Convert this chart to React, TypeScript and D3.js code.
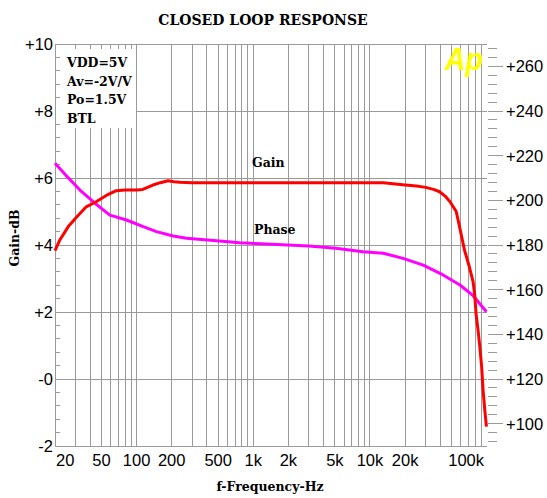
import React from 'react';
import * as d3 from 'd3';

const gainFreq = [20, 22, 26, 30, 37, 45, 55, 67, 80, 100, 113, 138, 160, 186, 210, 235, 300, 1000, 5000, 13000, 19000, 25000, 30000, 35000, 39500, 44000, 48500, 54800, 58500, 64500, 71000, 76500, 79000, 81000, 84300, 87300, 90500, 93100, 96300, 99500];
const gainDb = [3.83, 4.15, 4.55, 4.8, 5.14, 5.29, 5.48, 5.62, 5.64, 5.64, 5.66, 5.79, 5.86, 5.92, 5.89, 5.87, 5.86, 5.86, 5.86, 5.86, 5.8, 5.76, 5.72, 5.66, 5.59, 5.46, 5.29, 5.0, 4.55, 3.85, 3.35, 2.9, 2.5, 1.96, 1.46, 0.96, 0.37, -0.33, -0.93, -1.42];

const phaseFreq = [20, 24.7, 32.7, 44, 59, 82, 114, 148, 206, 268, 484, 763, 1300, 3000, 5100, 8700, 13000, 19200, 28600, 42300, 59000, 76500, 99500];
const phaseDeg = [216.6, 211.3, 204.6, 198.7, 193.4, 191.2, 188.2, 186.0, 184.0, 183.0, 181.9, 181.0, 180.4, 179.5, 178.5, 177.0, 176.3, 174.0, 171.0, 166.6, 162.1, 157.3, 150.1];

const xTickValues = [20, 50, 100, 200, 500, 1000, 2000, 5000, 10000, 20000, 100000];
const xTickLabels = ['20', '50', '100', '200', '500', '1k', '2k', '5k', '10k', '20k', '100k'];
const leftTickValues = [10, 8, 6, 4, 2, 0, -2];
const leftTickLabels = ['+10', '+8', '+6', '+4', '+2', '-0', '-2'];
const rightTickValues = [260, 240, 220, 200, 180, 160, 140, 120, 100];
const rightTickLabels = ['+260', '+240', '+220', '+200', '+180', '+160', '+140', '+120', '+100'];
const infoLines = ['VDD=5V', 'Av=-2V/V', 'Po=1.5V', 'BTL'];

const X0 = 55, X1 = 486.7, Y0 = 44, Y1 = 446;
const GRID = '#9a9a9a';
const SERIF = '"DejaVu Serif", serif';
const SANS = '"Liberation Sans", Arial, sans-serif';

export default function App() {
  const x = d3.scaleLog().domain([20, 100000]).range([X0, X1]);
  const y = d3.scaleLinear().domain([-2, 10]).range([Y1, Y0]);
  const yR = d3.scaleLinear().domain([90, 270]).range([Y1, Y0]);

  const vGrid: number[] = [];
  [10, 100, 1000, 10000].forEach((d) => {
    for (let m = 1; m <= 9; m++) {
      const v = d * m;
      if (v > 20 && v < 100000) vGrid.push(v);
    }
  });
  const hGrid = [0, 2, 4, 6, 8];
  const leftMinor: number[] = [];
  for (let i = 0; i <= 30; i++) {
    const v = -2 + i * 0.4;
    if (Math.abs(v / 2 - Math.round(v / 2)) > 0.01) leftMinor.push(v);
  }
  const rightMinor: number[] = [];
  for (let v = 92; v <= 268; v += 4) {
    if (v % 20 !== 0) rightMinor.push(v);
  }

  const gainLine = d3.line<number>()
    .x((_, i) => x(gainFreq[i]))
    .y((d) => y(d));
  const phaseLine = d3.line<number>()
    .x((_, i) => x(phaseFreq[i]))
    .y((d) => yR(d));

  return (
    <svg width={547} height={498} style={{ position: 'absolute', left: 0, top: 0, background: '#fff' }}>
      <rect x={0} y={0} width={547} height={498} fill="#fff" />
      <text x={263} y={25} textAnchor="middle" fontFamily={SERIF} fontWeight="bold" fontSize={14}>CLOSED LOOP RESPONSE</text>

      <g shapeRendering="crispEdges" stroke={GRID} strokeWidth={1}>
        {vGrid.map((v) => (
          <line key={'v' + v} x1={x(v)} x2={x(v)} y1={Y0} y2={Y1} />
        ))}
        {hGrid.map((v) => (
          <line key={'h' + v} x1={X0} x2={X1} y1={y(v)} y2={y(v)} />
        ))}
        <line x1={X0} x2={X1} y1={Y0} y2={Y0} />
        <line x1={X0} x2={X1} y1={Y1} y2={Y1} />
      </g>

      <rect x={56} y={49} width={80} height={79} fill="#fff" />
      {infoLines.map((t, i) => (
        <text key={t} x={67} y={67 + i * 18.7} fontFamily={SERIF} fontWeight="bold" fontSize={12.5}>{t}</text>
      ))}

      <g shapeRendering="crispEdges" stroke={GRID} strokeWidth={1}>
        <line x1={X0} x2={X0} y1={Y0} y2={Y1} />
        {leftMinor.map((v) => (
          <line key={'lm' + v} x1={X0} x2={X0 + 5} y1={y(v)} y2={y(v)} />
        ))}
        {rightMinor.map((v) => (
          <line key={'rm' + v} x1={488} x2={497} y1={yR(v)} y2={yR(v)} />
        ))}
        {rightTickValues.map((v) => (
          <line key={'rM' + v} x1={488} x2={503} y1={yR(v)} y2={yR(v)} />
        ))}
      </g>

      <path d={phaseLine(phaseDeg) || ''} fill="none" stroke="#ff00ff" strokeWidth={3} strokeLinejoin="round" />
      <path d={gainLine(gainDb) || ''} fill="none" stroke="#ff0000" strokeWidth={3} strokeLinejoin="round" />

      <text x={252} y={167} fontFamily={SERIF} fontWeight="bold" fontSize={12.5}>Gain</text>
      <text x={254} y={234} fontFamily={SERIF} fontWeight="bold" fontSize={12.5}>Phase</text>

      <text x={445} y={70} fontFamily={SANS} fontWeight="bold" fontStyle="italic" fontSize={31} fill="#ffff00" textLength={38} lengthAdjust="spacingAndGlyphs">Ap</text>

      {leftTickValues.map((v, i) => (
        <text key={'lt' + v} x={53} y={y(v)} dy="0.36em" textAnchor="end" fontFamily={SANS} fontSize={16.5}>{leftTickLabels[i]}</text>
      ))}
      {rightTickValues.map((v, i) => (
        <text key={'rt' + v} x={506} y={yR(v)} dy="0.36em" textAnchor="start" fontFamily={SANS} fontSize={16.5}>{rightTickLabels[i]}</text>
      ))}
      {xTickValues.map((v, i) => {
        const last = i === xTickValues.length - 1;
        const first = i === 0;
        return (
          <text key={'xt' + v} x={first ? X0 + 1 : last ? 484 : x(v)} y={466} textAnchor={first ? 'start' : last ? 'end' : 'middle'} fontFamily={SANS} fontSize={16.5}>{xTickLabels[i]}</text>
        );
      })}

      <text x={270} y={491} textAnchor="middle" fontFamily={SERIF} fontWeight="bold" fontSize={12.5}>f-Frequency-Hz</text>
      <text transform="translate(18.5,238) rotate(-90)" textAnchor="middle" fontFamily={SERIF} fontWeight="bold" fontSize={12.5}>Gain-dB</text>
    </svg>
  );
}
